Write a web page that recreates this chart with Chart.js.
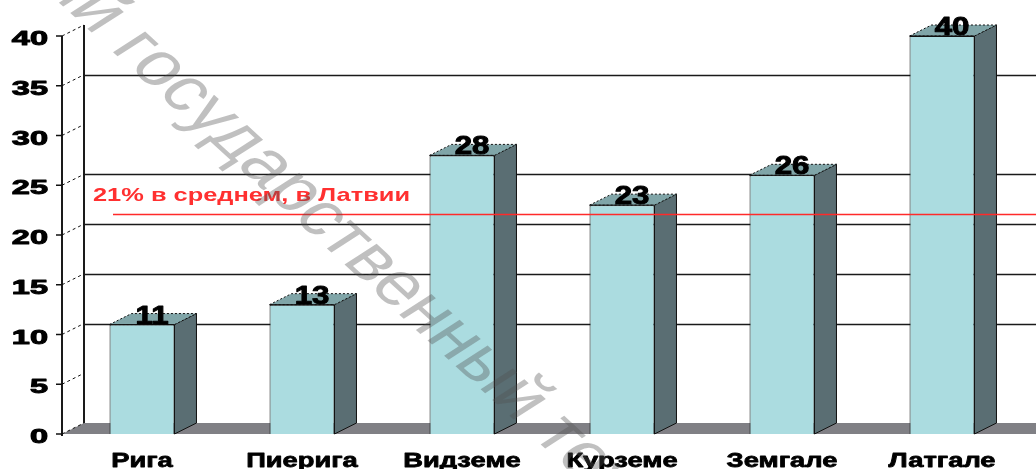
<!DOCTYPE html>
<html>
<head>
<meta charset="utf-8">
<script src="https://cdn.jsdelivr.net/npm/chart.js@4.4.1/dist/chart.umd.min.js"></script>
<style>
  html, body { margin: 0; padding: 0; background: #fff; }
  #wrap { width: 1036px; height: 469px; }
</style>
</head>
<body>
<div id="wrap"><canvas id="chart"></canvas></div>
<script>
// data
const regions = ['Рига', 'Пиерига', 'Видземе', 'Курземе', 'Земгале', 'Латгале'];
const shares = [11, 13, 28, 23, 26, 40];
const yTicks = [0, 5, 10, 15, 20, 25, 30, 35, 40];
const wallLines = [10, 15, 20, 25, 35];
const averageValue = 21;
const averageLabel = '21% в среднем, в Латвии';
const watermarkText = ['ский г', 'осударственный технологический университет'];

const DX = 22, DY = 11; // 3d depth
const FONT = '"Liberation Sans", Arial, sans-serif';

// draws text stretched horizontally like the old picture; heavy adds an outline
function stretchText(ctx, text, x, y, font, sx, align, heavy) {
  ctx.save();
  ctx.font = font;
  const w = ctx.measureText(text).width * sx;
  let x0 = x;
  if (align === 'center') x0 = x - w / 2;
  else if (align === 'right') x0 = x - w;
  ctx.translate(x0, y);
  ctx.scale(sx, 1);
  ctx.textAlign = 'left';
  ctx.textBaseline = 'alphabetic';
  ctx.fillText(text, 0, 0);
  if (heavy) {
    ctx.strokeStyle = ctx.fillStyle;
    ctx.lineWidth = heavy;
    ctx.lineJoin = 'round';
    ctx.strokeText(text, 0, 0);
  }
  ctx.restore();
}

const wall3d = {
  id: 'wall3d',
  beforeDatasetsDraw(chart) {
    const { ctx, chartArea, scales } = chart;
    const y = scales.y;
    const left = chartArea.left;
    const W = chart.width;
    const y0 = y.getPixelForValue(0);
    const yTop = y.getPixelForValue(40);
    ctx.save();

    // floor
    ctx.fillStyle = '#808085';
    ctx.beginPath();
    ctx.moveTo(left, y0);
    ctx.lineTo(left + DX, y0 - DY);
    ctx.lineTo(W, y0 - DY);
    ctx.lineTo(W, y0);
    ctx.closePath();
    ctx.fill();

    // back wall grid lines
    ctx.strokeStyle = '#1a1a1a';
    ctx.lineWidth = 1.5;
    wallLines.forEach(v => {
      const py = Math.round(y.getPixelForValue(v) - DY) + 0.5;
      ctx.beginPath();
      ctx.moveTo(left + DX, py);
      ctx.lineTo(W, py);
      ctx.stroke();
    });

    // back wall left edge
    ctx.lineWidth = 2;
    ctx.beginPath();
    ctx.moveTo(left + DX, yTop - DY);
    ctx.lineTo(left + DX, y0 - DY);
    ctx.stroke();

    // front axis
    ctx.beginPath();
    ctx.moveTo(left, yTop);
    ctx.lineTo(left, y0 + 2);
    ctx.stroke();

    y.ticks.forEach(t => {
      const py = y.getPixelForValue(t.value);
      // tick mark
      ctx.setLineDash([]);
      ctx.lineWidth = 1.5;
      ctx.strokeStyle = '#111';
      ctx.beginPath();
      ctx.moveTo(left - 6, py);
      ctx.lineTo(left, py);
      ctx.stroke();
      // dashed depth line
      ctx.setLineDash([3, 3]);
      ctx.lineWidth = 1;
      ctx.beginPath();
      ctx.moveTo(left, py);
      ctx.lineTo(left + DX, py - DY);
      ctx.stroke();
      ctx.setLineDash([]);
      // label
      ctx.fillStyle = '#000';
      stretchText(ctx, String(t.value), left - 14, py + 9, 'bold 21px ' + FONT, 1.55, 'right', 1);
    });
    ctx.restore();
  },
  afterDatasetsDraw(chart) {
    const { ctx, chartArea, scales } = chart;
    const meta = chart.getDatasetMeta(0);
    const W = chart.width;
    ctx.save();
    ctx.lineWidth = 1;
    ctx.strokeStyle = '#111';
    meta.data.forEach((el, i) => {
      const l = el.x - el.width / 2, r = el.x + el.width / 2;
      const top = el.y, base = el.base;
      // side face
      ctx.fillStyle = '#5a6e73';
      ctx.beginPath();
      ctx.moveTo(r, top);
      ctx.lineTo(r + DX, top - DY);
      ctx.lineTo(r + DX, base - DY);
      ctx.lineTo(r, base);
      ctx.closePath();
      ctx.fill();
      ctx.stroke();
      // top face
      ctx.fillStyle = '#80a5a8';
      ctx.beginPath();
      ctx.moveTo(l, top);
      ctx.lineTo(l + DX, top - DY);
      ctx.lineTo(r + DX, top - DY);
      ctx.lineTo(r, top);
      ctx.closePath();
      ctx.fill();
      ctx.setLineDash([2, 2]);
      ctx.stroke();
      ctx.setLineDash([]);
      // front edge
      ctx.beginPath();
      ctx.moveTo(l, top);
      ctx.lineTo(r, top);
      ctx.stroke();
      // value label
      ctx.fillStyle = '#000';
      stretchText(ctx, String(shares[i]), el.x + 10, top - 1, 'bold 26px ' + FONT, 1.2, 'center', 1);
    });

    // category labels
    const x = scales.x;
    regions.forEach((name, i) => {
      ctx.fillStyle = '#000';
      stretchText(ctx, name, x.getPixelForValue(i), 467, 'bold 21px ' + FONT, 1.3, 'center', 0.8);
    });

    // average line (sits on back wall)
    const ay = Math.round(scales.y.getPixelForValue(averageValue) - DY) + 0.5;
    ctx.strokeStyle = '#ff2a2a';
    ctx.lineWidth = 1.5;
    ctx.beginPath();
    ctx.moveTo(chartArea.left + 51, ay);
    ctx.lineTo(W, ay);
    ctx.stroke();
    ctx.fillStyle = '#ff3030';
    ctx.font = 'bold 19px ' + FONT;
    const fit = 317 / ctx.measureText(averageLabel).width;
    stretchText(ctx, averageLabel, chartArea.left + 31, ay - 14, 'bold 19px ' + FONT, fit, 'left');

    // watermark
    ctx.translate(128, 66);
    ctx.scale(1.3, 1);
    ctx.rotate(50 * Math.PI / 180);
    ctx.font = '61px ' + FONT;
    ctx.fillStyle = 'rgba(80,80,80,0.36)';
    ctx.textBaseline = 'alphabetic';
    ctx.textAlign = 'right';
    ctx.fillText(watermarkText[0], 0, 0);
    ctx.textAlign = 'left';
    ctx.fillText(watermarkText[1], 0, 0);
    ctx.restore();
  }
};

new Chart(document.getElementById('chart'), {
  type: 'bar',
  data: {
    labels: regions,
    datasets: [{
      data: shares,
      backgroundColor: '#abdce0',
      borderColor: '#111',
      borderWidth: 1,
      borderSkipped: 'bottom',
      barPercentage: 0.406,
      categoryPercentage: 1
    }]
  },
  options: {
    responsive: true,
    maintainAspectRatio: false,
    animation: false,
    layout: { padding: { top: 36, right: 14, left: 0, bottom: 0 } },
    plugins: { legend: { display: false }, tooltip: { enabled: false } },
    scales: {
      x: {
        ticks: { display: false },
        grid: { display: false },
        border: { display: false },
        afterFit(scale) { scale.height = 35; }
      },
      y: {
        min: 0,
        max: 40,
        afterBuildTicks(scale) { scale.ticks = yTicks.map(v => ({ value: v })); },
        ticks: { display: false },
        grid: { display: false },
        border: { display: false },
        afterFit(scale) { scale.width = 62; }
      }
    }
  },
  plugins: [wall3d]
});
</script>
</body>
</html>
